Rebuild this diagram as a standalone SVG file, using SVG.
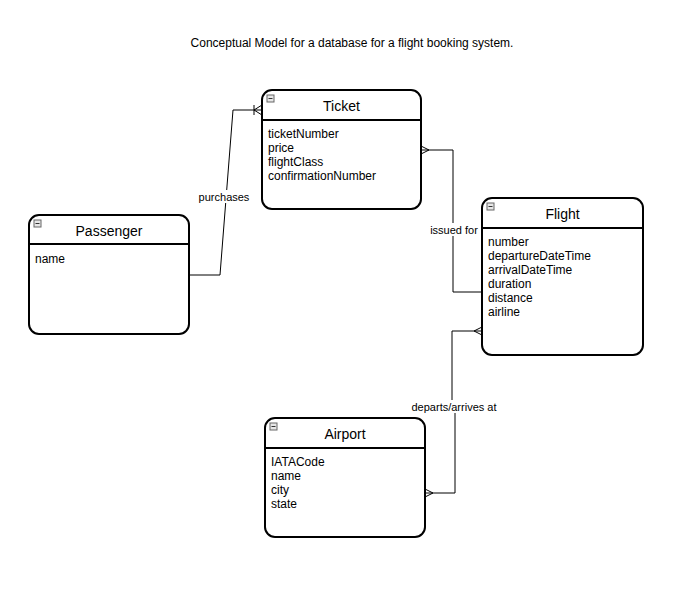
<svg xmlns="http://www.w3.org/2000/svg" width="689" height="595" viewBox="0 0 689 595">
<style>
text{font-family:"Liberation Sans",Arial,sans-serif;fill:#000}
.box{fill:#fff;stroke:#000;stroke-width:2}
.div{stroke:#000;stroke-width:2}
.title{font-size:14px;text-anchor:middle}
.attr{font-size:12px}
.lbl{font-size:11px;text-anchor:middle}
.icon{fill:#e6e6e6;stroke:#666;stroke-width:1}
.iconl{stroke:#333;stroke-width:1}
.conn{fill:none;stroke:#000;stroke-width:1}
.lblbg{fill:#fff}
</style>
<rect width="689" height="595" fill="#fff"/>
<text x="352" y="47" font-size="12" text-anchor="middle" style="font-size:12px">Conceptual Model for a database for a flight booking system.</text>

<g id="connectors">
  <g id="purchases">
    <path class="conn" d="M189,275 H220 L233,110 H262"/>
    <path class="conn" d="M262,105 L254,110 L262,115 M254,105 V115"/>
    <rect class="lblbg" x="197" y="190" width="54" height="13"/>
    <text class="lbl" x="224" y="201">purchases</text>
  </g>
  <g id="issuedfor">
    <path class="conn" d="M421,150 H453 V292 H482"/>
    <path class="conn" d="M421,146 L429,150 L421,154"/>
    <rect class="lblbg" x="429" y="223" width="50" height="13"/>
    <text class="lbl" x="454" y="234">issued for</text>
  </g>
  <g id="departs">
    <path class="conn" d="M482,331 H452 V407 H455 V493 H425"/>
    <path class="conn" d="M482,327 L474,331 L482,335"/>
    <path class="conn" d="M425,489 L433,493 L425,497"/>
    <rect class="lblbg" x="409" y="400" width="90" height="13"/>
    <text class="lbl" x="454" y="411">departs/arrives at</text>
  </g>
</g>

<g id="ticket">
  <rect class="box" x="262" y="90" width="159" height="119" rx="10"/>
  <line class="div" x1="262" y1="120" x2="421" y2="120"/>
  <rect class="icon" x="267" y="95" width="7" height="7"/>
  <line class="iconl" x1="268.5" y1="98.5" x2="272.5" y2="98.5"/>
  <text class="title" x="341.5" y="111">Ticket</text>
  <text class="attr" x="268" y="138">ticketNumber</text>
  <text class="attr" x="268" y="152">price</text>
  <text class="attr" x="268" y="166">flightClass</text>
  <text class="attr" x="268" y="180">confirmationNumber</text>
</g>

<g id="passenger">
  <rect class="box" x="29" y="215" width="160" height="119" rx="10"/>
  <line class="div" x1="29" y1="244" x2="189" y2="244"/>
  <rect class="icon" x="34" y="220" width="7" height="7"/>
  <line class="iconl" x1="35.5" y1="223.5" x2="39.5" y2="223.5"/>
  <text class="title" x="109" y="236">Passenger</text>
  <text class="attr" x="35" y="263">name</text>
</g>

<g id="flight">
  <rect class="box" x="482" y="198" width="161" height="157" rx="10"/>
  <line class="div" x1="482" y1="228" x2="643" y2="228"/>
  <rect class="icon" x="487" y="203" width="7" height="7"/>
  <line class="iconl" x1="488.5" y1="206.5" x2="492.5" y2="206.5"/>
  <text class="title" x="562.5" y="219">Flight</text>
  <text class="attr" x="488" y="246">number</text>
  <text class="attr" x="488" y="260">departureDateTime</text>
  <text class="attr" x="488" y="274">arrivalDateTime</text>
  <text class="attr" x="488" y="288">duration</text>
  <text class="attr" x="488" y="302">distance</text>
  <text class="attr" x="488" y="316">airline</text>
</g>

<g id="airport">
  <rect class="box" x="265" y="418" width="160" height="119" rx="10"/>
  <line class="div" x1="265" y1="448" x2="425" y2="448"/>
  <rect class="icon" x="270" y="423" width="7" height="7"/>
  <line class="iconl" x1="271.5" y1="426.5" x2="275.5" y2="426.5"/>
  <text class="title" x="345" y="439">Airport</text>
  <text class="attr" x="271" y="466">IATACode</text>
  <text class="attr" x="271" y="480">name</text>
  <text class="attr" x="271" y="494">city</text>
  <text class="attr" x="271" y="508">state</text>
</g>
</svg>
